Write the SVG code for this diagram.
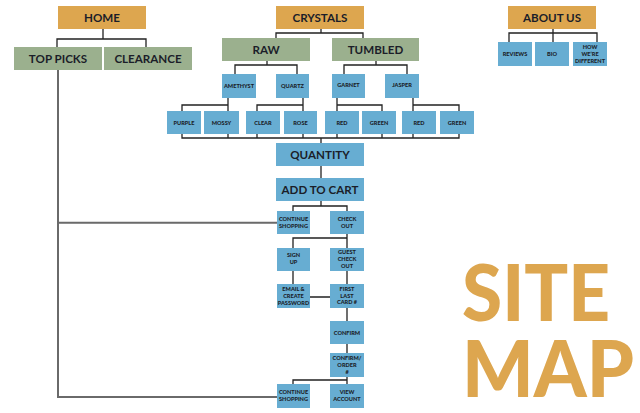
<svg xmlns="http://www.w3.org/2000/svg" width="640" height="413" viewBox="0 0 640 413">
<style>
.o{fill:#DDA64F}
.g{fill:#9BB08E}
.b{fill:#67ADD2}
text{font-family:Lato,"Liberation Sans",sans-serif;fill:#1b1e29;text-anchor:middle;font-weight:900}
.L{font-size:11.6px;font-weight:700}
.s{font-size:5.6px}
.c{fill:none;stroke:#222;stroke-width:1.3}
.gl{fill:none;stroke:#6a6a6a;stroke-width:2}
.big{fill:#DDA64F;text-anchor:start;font-size:78px}
</style>
<rect width="640" height="413" fill="#fff"/>
<g id="connectors">
<path class="gl" d="M58,70V397H277M58,222.7H277"/>
<path class="c" d="M103,29V39M57,47V39H146V47"/>
<path class="c" d="M321,29V33M276,38V33H363V38"/>
<path class="c" d="M267,61V65M235,74V65H297V74"/>
<path class="c" d="M376,61V65M344,74V65H407V74"/>
<path class="c" d="M228,98V111M182,111V105H228"/>
<path class="c" d="M303,98V111M257,111V105H303"/>
<path class="c" d="M337,98V111M382,111V105H337"/>
<path class="c" d="M413,98V111M459,111V105H413"/>
<path class="c" d="M182,134V138H459V134M228,134V138M257,134V138M303,134V138M337,134V138M382,134V138M413,134V138M321,138V143"/>
<path class="c" d="M321,166V178"/>
<path class="c" d="M321,201V206M293,211V206H347V211"/>
<path class="c" d="M347,234V248M293,248V238H347"/>
<path class="c" d="M293,271V284M347,271V284M310,297H330M347,308V321M347,344V353"/>
<path class="c" d="M347,377V384M293,384V380H347"/>
<path class="c" d="M553,29V42M509,42V33H597V42"/>
</g>
<g id="home"><rect class="o" x="58" y="6" width="88" height="23"/><text class="L" x="102" y="21.7">HOME</text></g>
<g id="crystals"><rect class="o" x="276" y="6" width="88" height="23"/><text class="L" x="320" y="21.7">CRYSTALS</text></g>
<g id="about"><rect class="o" x="508" y="6" width="88" height="23"/><text class="L" x="552" y="21.7">ABOUT US</text></g>
<g id="toppicks"><rect class="g" x="14" y="47" width="88" height="23"/><text class="L" x="58" y="62.7">TOP PICKS</text></g>
<g id="clearance"><rect class="g" x="104" y="47" width="88" height="23"/><text class="L" x="148" y="62.7">CLEARANCE</text></g>
<g id="raw"><rect class="g" x="222" y="38" width="88" height="23"/><text class="L" x="266" y="53.7">RAW</text></g>
<g id="tumbled"><rect class="g" x="332" y="38" width="87" height="23"/><text class="L" x="375.5" y="53.7">TUMBLED</text></g>
<g id="amethyst"><rect class="b" x="222" y="74" width="34" height="24"/><text class="s" x="239" y="88">AMETHYST</text></g>
<g id="quartz"><rect class="b" x="276" y="74" width="33" height="24"/><text class="s" x="292.5" y="88">QUARTZ</text></g>
<g id="garnet"><rect class="b" x="332" y="74" width="33" height="24"/><text class="s" x="348.5" y="87">GARNET</text></g>
<g id="jasper"><rect class="b" x="385" y="74" width="34" height="24"/><text class="s" x="402" y="87">JASPER</text></g>
<g id="purple"><rect class="b" x="167" y="111" width="34" height="23"/><text class="s" x="184" y="124.5">PURPLE</text></g>
<g id="mossy"><rect class="b" x="204" y="111" width="35" height="23"/><text class="s" x="221.5" y="124.5">MOSSY</text></g>
<g id="clear"><rect class="b" x="246" y="111" width="34" height="23"/><text class="s" x="263" y="124.5">CLEAR</text></g>
<g id="rose"><rect class="b" x="284" y="111" width="33" height="23"/><text class="s" x="300.5" y="124.5">ROSE</text></g>
<g id="red1"><rect class="b" x="325" y="111" width="34" height="23"/><text class="s" x="342" y="124.5">RED</text></g>
<g id="green1"><rect class="b" x="362" y="111" width="34" height="23"/><text class="s" x="379" y="124.5">GREEN</text></g>
<g id="red2"><rect class="b" x="402" y="111" width="34" height="23"/><text class="s" x="419" y="124.5">RED</text></g>
<g id="green2"><rect class="b" x="440" y="111" width="34" height="23"/><text class="s" x="457" y="124.5">GREEN</text></g>
<g id="quantity"><rect class="b" x="276" y="143" width="88" height="23"/><text class="L" x="320" y="158.7">QUANTITY</text></g>
<g id="addtocart"><rect class="b" x="276" y="178" width="88" height="23"/><text class="L" x="320" y="193.7">ADD TO CART</text></g>
<g id="reviews"><rect class="b" x="498" y="42" width="34" height="24"/><text class="s" x="515" y="56">REVIEWS</text></g>
<g id="bio"><rect class="b" x="535" y="42" width="34" height="24"/><text class="s" x="552" y="56">BIO</text></g>
<g id="how"><rect class="b" x="573" y="42" width="34" height="24"/><text class="s" x="590" y="49">HOW</text><text class="s" x="590" y="56">WE’RE</text><text class="s" x="590" y="63">DIFFERENT</text></g>
<g id="continue1"><rect class="b" x="277" y="211" width="33" height="23"/><text class="s" x="293.5" y="221.2">CONTINUE</text><text class="s" x="293.5" y="227.9">SHOPPING</text></g>
<g id="checkout"><rect class="b" x="330" y="211" width="34" height="23"/><text class="s" x="347" y="221">CHECK</text><text class="s" x="347" y="227.7">OUT</text></g>
<g id="signup"><rect class="b" x="277" y="248" width="33" height="23"/><text class="s" x="293.5" y="257">SIGN</text><text class="s" x="293.5" y="264">UP</text></g>
<g id="guest"><rect class="b" x="330" y="248" width="34" height="23"/><text class="s" x="347" y="254">GUEST</text><text class="s" x="347" y="260.8">CHECK</text><text class="s" x="347" y="267.6">OUT</text></g>
<g id="email"><rect class="b" x="277" y="284" width="33" height="24"/><text class="s" x="293.5" y="291">EMAIL &amp;</text><text class="s" x="293.5" y="297.8">CREATE</text><text class="s" x="293.5" y="304.6">PASSWORD</text></g>
<g id="first"><rect class="b" x="330" y="284" width="34" height="24"/><text class="s" x="347" y="291">FIRST</text><text class="s" x="347" y="297.6">LAST</text><text class="s" x="347" y="304.2">CARD #</text></g>
<g id="confirm"><rect class="b" x="330" y="321" width="34" height="23"/><text class="s" x="347" y="334.5">CONFIRM</text></g>
<g id="confirmorder"><rect class="b" x="330" y="353" width="34" height="24"/><text class="s" x="347" y="360">CONFIRM/</text><text class="s" x="347" y="367">ORDER</text><text class="s" x="347" y="374">#</text></g>
<g id="continue2"><rect class="b" x="277" y="384" width="33" height="24"/><text class="s" x="293.5" y="393.7">CONTINUE</text><text class="s" x="293.5" y="400.7">SHOPPING</text></g>
<g id="viewaccount"><rect class="b" x="330" y="384" width="34" height="24"/><text class="s" x="347" y="393.7">VIEW</text><text class="s" x="347" y="400.7">ACCOUNT</text></g>
<g id="title">
<text class="big" x="462" y="321" font-weight="400" textLength="148" lengthAdjust="spacingAndGlyphs">SITE</text>
<text class="big" x="462" y="397" font-weight="900" textLength="172" lengthAdjust="spacingAndGlyphs">MAP</text>
</g>
</svg>
